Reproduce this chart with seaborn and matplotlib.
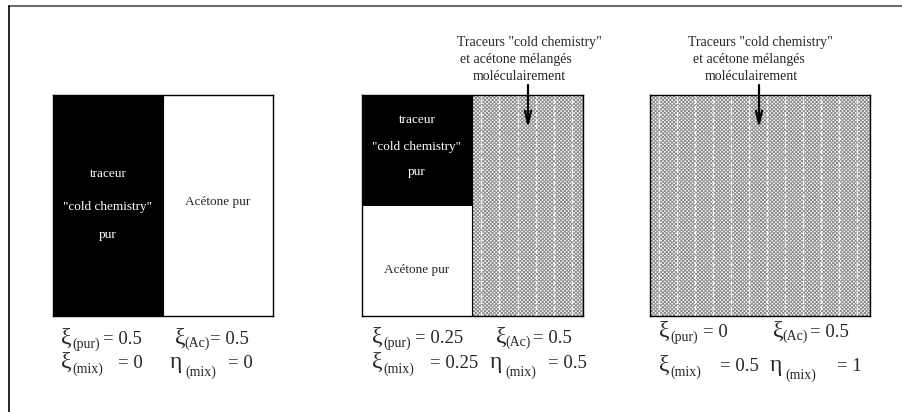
import numpy as np
import seaborn as sns
import matplotlib.pyplot as plt

sns.set_style("white")
plt.rcParams['font.family'] = ['Liberation Serif', 'DejaVu Serif']
plt.rcParams['hatch.linewidth'] = 0.7

# fractions for the three states
xi_pur = [0.5, 0.25, 0.0]
xi_ac = [0.5, 0.5, 0.5]
xi_mix = [0.0, 0.25, 0.5]
eta_mix = [0.0, 0.5, 1.0]

tracer_lines = ['traceur', '"cold chemistry"', 'pur']
acetone_label = 'Acétone pur'
mix_lines = ['Traceurs "cold chemistry"', 'et acétone mélangés', 'moléculairement']

fig = plt.figure(figsize=(9.03, 4.12), dpi=100)
W, H = 903, 412

# panel boxes in pixels (left, top, width, height)
boxes = [(53, 95, 220, 221), (362, 95, 221, 221), (650, 95, 220, 221)]

for i, (x0, y0, w, h) in enumerate(boxes):
    ax = fig.add_axes([x0 / W, 1 - (y0 + h) / H, w / W, h / H])
    m = 2 * xi_mix[i]
    p = xi_pur[i]
    a = xi_ac[i] - xi_mix[i]
    if m == 0:
        ax.bar([0], [1], width=p, align='edge', color='black', lw=0)
        ax.bar([p], [1], width=a, align='edge', color='white', lw=0)
        ax.axvline(p, color='black', lw=0.8)
    else:
        left = 1 - m
        if left > 0:
            ax.bar([0], [a / left], width=left, align='edge', color='white', lw=0)
            ax.bar([0], [p / left], bottom=a / left, width=left, align='edge',
                   color='black', lw=0)
        ax.bar([left], [1], width=m, align='edge', color='white',
               edgecolor='#8a8a8a', hatch='x' * 9, lw=0)
        ax.vlines(np.arange(left + 0.04, 1, 0.082), 0, 1, colors='white', lw=1.0,
                  linestyles=(0, (3, 1.5)))
        if left > 0:
            ax.axvline(left, color='black', lw=0.8)
    ax.set_xlim(0, 1)
    ax.set_ylim(0, 1)
    ax.set_xticks([])
    ax.set_yticks([])
    for s in ax.spines.values():
        s.set_visible(True)
        s.set_color('black')
        s.set_linewidth(1.0)

bg = fig.add_axes([0, 0, 1, 1], zorder=5)
bg.patch.set_alpha(0)
bg.set_xlim(0, W)
bg.set_ylim(H, 0)
bg.axis('off')

# frame
bg.plot([9, W], [6, 6], color='#6e6e6e', lw=1.5)
bg.plot([9, 9], [6, H], color='black', lw=1.2)

# labels inside the boxes
for y, t in zip([174, 207, 235], tracer_lines):
    bg.text(108, y, t, color='white', ha='center', va='center', fontsize=9.5)
bg.text(218, 202, acetone_label, ha='center', va='center', fontsize=9.5)
for y, t in zip([120, 147, 172], tracer_lines):
    bg.text(417, y, t, color='white', ha='center', va='center', fontsize=9.5)
bg.text(417, 270, acetone_label, ha='center', va='center', fontsize=9.5)

# mixed labels + arrows
for lx, ax_x, offs in [(457, 528, [0, 3, 16]), (688, 759, [0, 5, 17])]:
    for y, t, o in zip([42, 59, 76], mix_lines, offs):
        bg.text(lx + o, y, t, ha='left', va='center', fontsize=10)
    bg.annotate('', xy=(ax_x, 128), xytext=(ax_x, 85),
                arrowprops=dict(arrowstyle='->,head_length=0.9,head_width=0.22',
                                lw=1.6, color='black', shrinkA=0, shrinkB=0))

# equations: per panel, rows baselines and x positions
rows_y = [(344, 368), (343, 368), (337, 371)]
# (symbol x, subscript x, value x) for r1c1, r1c2, r2c1, r2c2
xs = [
    [(61, 72, 103), (175, 184, 210), (61, 72, 118), (170, 185, 228)],
    [(372, 383, 415), (496, 505, 533), (372, 383, 430), (490, 505, 548)],
    [(659, 670, 703), (773, 782, 810), (659, 670, 720), (770, 785, 837)],
]
syms = ['ξ', 'ξ', 'ξ', 'η']
subs = ['(pur)', '(Ac)', '(mix)', '(mix)']
sub_dy = [4, 3, 5, 8]

for i in range(3):
    vals = [xi_pur[i], xi_ac[i], xi_mix[i], eta_mix[i]]
    for k in range(4):
        y = rows_y[i][0] if k < 2 else rows_y[i][1]
        sx, bx, vx = xs[i][k]
        bg.text(sx, y, syms[k], ha='left', va='baseline', fontsize=17)
        bg.text(bx, y + sub_dy[k], subs[k], ha='left', va='baseline', fontsize=10)
        bg.text(vx, y, '= %g' % vals[k], ha='left', va='baseline', fontsize=13.5)

fig.savefig('out.png', dpi=100)
